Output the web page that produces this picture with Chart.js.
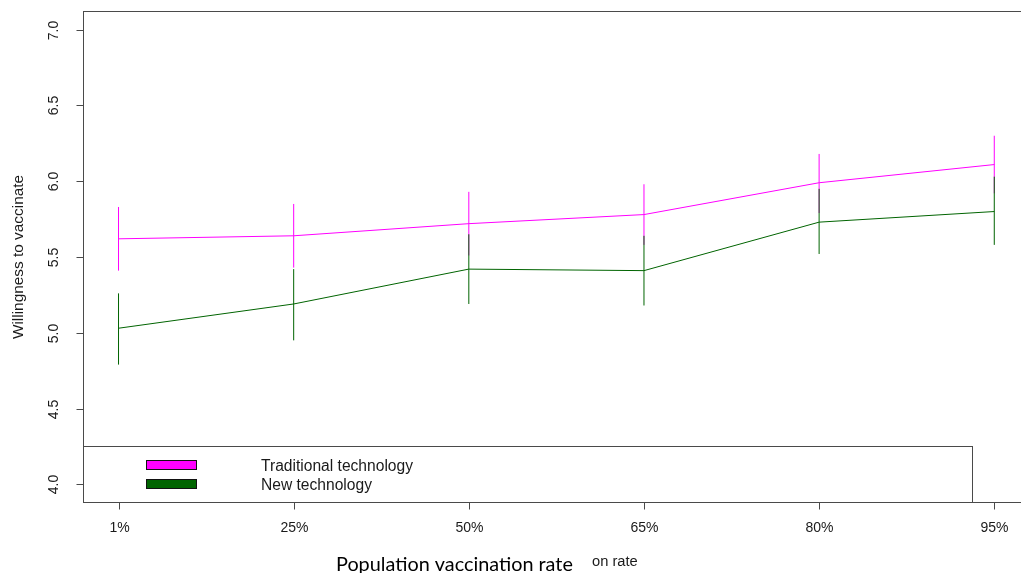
<!DOCTYPE html>
<html>
<head>
<meta charset="utf-8">
<script src="https://cdn.jsdelivr.net/npm/chart.js@4.4.1/dist/chart.umd.min.js"></script>
<style>
  html, body { margin: 0; padding: 0; background: #fff; overflow: hidden; }
  #wrap { width: 1040px; height: 573px; }
</style>
</head>
<body>
<div id="wrap"><canvas id="c" width="1040" height="573"></canvas></div>
<script>
// Population vaccination rate categories
const categories = ['1%', '25%', '50%', '65%', '80%', '95%'];

// Traditional technology: mean willingness and interval bounds
const tradMean = [5.62, 5.64, 5.72, 5.78, 5.99, 6.11];
const tradLow  = [5.41, 5.43, 5.51, 5.58, 5.79, 5.92];
const tradHigh = [5.83, 5.85, 5.93, 5.98, 6.18, 6.30];

// New technology: mean willingness and interval bounds
const newMean = [5.03, 5.19, 5.42, 5.41, 5.73, 5.80];
const newLow  = [4.79, 4.95, 5.19, 5.18, 5.52, 5.58];
const newHigh = [5.26, 5.42, 5.65, 5.64, 5.95, 6.03];

// Y axis tick values
const yTicks = [4.0, 4.5, 5.0, 5.5, 6.0, 6.5, 7.0];

const seriesNames = ['Traditional technology', 'New technology'];
const MAGENTA = '#FF00FF';
const DKGREEN = '#006400';
const INK = '#1a1a1a';
const FRAME = '#4a4a4a';
const SANS = '"Liberation Sans", Arial, sans-serif';
const TICK_FONT = '14px ' + SANS;
const TITLE_FONT = '15.4px ' + SANS;
const LEGEND_FONT = '15.6px ' + SANS;

const toPoints = arr => arr.map((v, i) => ({ x: i + 1, y: v }));

// Vertical interval lines, frame, ticks, labels and legend
const rDecor = {
  id: 'rDecor',
  afterDatasetsDraw(chart) {
    const ctx = chart.ctx;
    const xs = chart.scales.x, ys = chart.scales.y;
    const drawBars = (lo, hi, color) => {
      ctx.save();
      ctx.strokeStyle = color;
      ctx.lineWidth = 1;
      lo.forEach((v, i) => {
        const px = xs.getPixelForValue(i + 1);
        ctx.beginPath();
        ctx.moveTo(px, ys.getPixelForValue(v));
        ctx.lineTo(px, ys.getPixelForValue(hi[i]));
        ctx.stroke();
      });
      ctx.restore();
    };
    drawBars(tradLow, tradHigh, MAGENTA);
    drawBars(newLow, newHigh, DKGREEN);
  },
  afterDraw(chart) {
    const ctx = chart.ctx;
    const a = chart.chartArea;
    const xs = chart.scales.x, ys = chart.scales.y;
    ctx.save();

    // plot frame
    ctx.strokeStyle = FRAME;
    ctx.lineWidth = 1;
    ctx.strokeRect(a.left, a.top, a.right - a.left, a.bottom - a.top);

    // x ticks and labels
    ctx.fillStyle = INK;
    ctx.font = TICK_FONT;
    ctx.textAlign = 'center';
    ctx.textBaseline = 'middle';
    categories.forEach((lab, i) => {
      const px = Math.round(xs.getPixelForValue(i + 1)) + 0.5;
      ctx.beginPath();
      ctx.moveTo(px, a.bottom);
      ctx.lineTo(px, a.bottom + 7);
      ctx.stroke();
      ctx.fillText(lab, px, a.bottom + 26);
    });

    // y ticks and rotated labels
    yTicks.forEach(v => {
      const py = Math.round(ys.getPixelForValue(v)) + 0.5;
      ctx.beginPath();
      ctx.moveTo(a.left, py);
      ctx.lineTo(a.left - 7, py);
      ctx.stroke();
      ctx.save();
      ctx.translate(a.left - 29, py);
      ctx.rotate(-Math.PI / 2);
      ctx.fillText(v.toFixed(1), 0, 0);
      ctx.restore();
    });

    // y axis title
    ctx.save();
    ctx.font = TITLE_FONT;
    ctx.translate(18.5, (a.top + a.bottom) / 2);
    ctx.rotate(-Math.PI / 2);
    ctx.fillText('Willingness to vaccinate', 0, 0);
    ctx.restore();

    // legend box
    const lgTop = a.bottom - 56;
    ctx.strokeRect(a.left, lgTop, 889, a.bottom - lgTop);
    const swatches = [MAGENTA, DKGREEN];
    ctx.font = LEGEND_FONT;
    ctx.textBaseline = 'alphabetic';
    seriesNames.forEach((name, i) => {
      const sy = lgTop + 14 + i * 19;
      ctx.fillStyle = swatches[i];
      ctx.fillRect(146.5, sy, 50, 9);
      ctx.strokeStyle = '#111';
      ctx.strokeRect(146.5, sy, 50, 9);
      ctx.fillStyle = INK;
      ctx.textAlign = 'left';
      ctx.fillText(name, 261, sy + 10.5);
    });

    // x axis titles
    ctx.textBaseline = 'alphabetic';
    ctx.textAlign = 'left';
    ctx.fillStyle = INK;
    ctx.font = '14.7px ' + SANS;
    ctx.fillText('on rate', 592, 565.5);

    const title = 'Population vaccination rate';
    ctx.font = '20px Lato, "Open Sans", sans-serif';
    const w = ctx.measureText(title).width;
    const size = 20 * 237 / w;
    ctx.font = size.toFixed(2) + 'px Lato, "Open Sans", sans-serif';
    ctx.fillStyle = '#000';
    ctx.fillText(title, 336, 571);
    ctx.restore();
  }
};

new Chart(document.getElementById('c'), {
  type: 'line',
  data: {
    datasets: [
      {
        label: seriesNames[0],
        data: toPoints(tradMean),
        borderColor: MAGENTA,
        borderWidth: 1,
        pointRadius: 0,
        tension: 0,
        fill: false
      },
      {
        label: seriesNames[1],
        data: toPoints(newMean),
        borderColor: DKGREEN,
        borderWidth: 1,
        pointRadius: 0,
        tension: 0,
        fill: false
      }
    ]
  },
  options: {
    responsive: false,
    animation: false,
    devicePixelRatio: 1,
    layout: { padding: { left: 83.5, top: 11.5, right: 10.7, bottom: 70.5 } },
    plugins: { legend: { display: false }, tooltip: { enabled: false } },
    scales: {
      x: { type: 'linear', min: 0.8, max: 6.2, display: false },
      y: { type: 'linear', min: 3.88, max: 7.12, display: false }
    }
  },
  plugins: [rDecor]
});
</script>
</body>
</html>
